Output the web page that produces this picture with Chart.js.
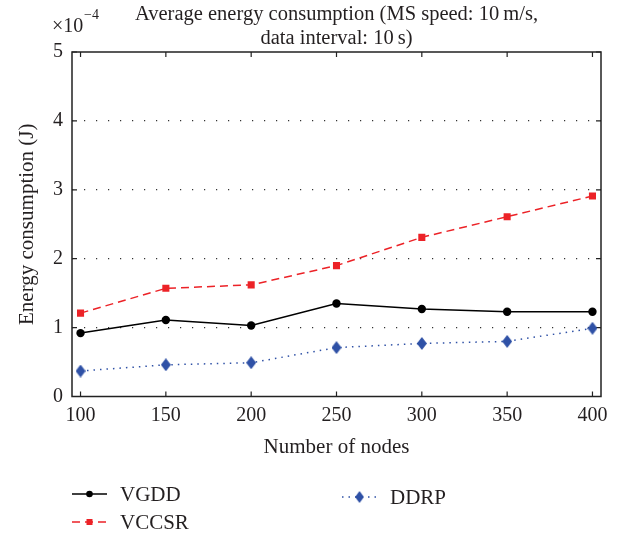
<!DOCTYPE html>
<html>
<head>
<meta charset="utf-8">
<script src="https://cdn.jsdelivr.net/npm/chart.js@4.4.0/dist/chart.umd.min.js"></script>
<style>body{margin:0;background:#fff}</style>
</head>
<body>
<canvas id="energy" width="627" height="533"></canvas>
<script>
// values, in units of 1e-4 J
var nodes = [100, 150, 200, 250, 300, 350, 400]
var vgdd = [0.92, 1.11, 1.03, 1.35, 1.27, 1.23, 1.23]
var vccsr = [1.21, 1.57, 1.62, 1.90, 2.31, 2.61, 2.91]
var ddrp = [0.37, 0.46, 0.49, 0.71, 0.77, 0.80, 0.99]
var yTicks = [0, 1, 2, 3, 4, 5]
var names = ['VGDD', 'VCCSR', 'DDRP']

var serif = '"Liberation Serif", "Times New Roman", serif'
var ink = '#231f20'
var red = '#ec2227'
var blue = '#2f51a6'

function pts(arr) {
  return nodes.map(function(n, i) { return {x: n, y: arr[i]} })
}

// elongated diamond marker like the original
function diamond(color, w, h) {
  var c = document.createElement('canvas')
  c.width = w; c.height = h
  var g = c.getContext('2d')
  g.fillStyle = color
  g.beginPath()
  g.moveTo(w / 2, 0); g.lineTo(w, h / 2); g.lineTo(w / 2, h); g.lineTo(0, h / 2)
  g.closePath()
  g.fill()
  return c
}
var diamondMark = diamond(blue, 10, 13)

var sets = [
  {label: names[0], data: pts(vgdd), borderColor: '#000', backgroundColor: '#000',
   borderWidth: 1.5, pointStyle: 'circle', pointRadius: 4.2, dash: []},
  {label: names[1], data: pts(vccsr), borderColor: red, backgroundColor: red,
   borderWidth: 1.5, borderDash: [8, 5], pointStyle: 'rect', pointRadius: 5, dash: [8, 5]},
  {label: names[2], data: pts(ddrp), borderColor: blue, backgroundColor: blue,
   borderWidth: 1.5, borderDash: [1.5, 5], pointStyle: diamondMark, pointRadius: 6, dash: [1.5, 5]}
]
sets.forEach(function(s) { s.tension = 0; s.fill = false; s.pointBorderWidth = 0 })

var decor = {
  id: 'decor',
  beforeDatasetsDraw: function(chart) {
    var c = chart.ctx, a = chart.chartArea
    var xs = chart.scales.x, ys = chart.scales.y
    c.save()
    c.strokeStyle = '#222'
    c.lineWidth = 1.5
    c.strokeRect(a.left, a.top, a.right - a.left, a.bottom - a.top)
    // inward ticks on all four sides
    c.lineWidth = 1.2
    c.beginPath()
    nodes.forEach(function(n) {
      var px = xs.getPixelForValue(n)
      c.moveTo(px, a.bottom); c.lineTo(px, a.bottom - 5)
      c.moveTo(px, a.top); c.lineTo(px, a.top + 5)
    })
    yTicks.forEach(function(v) {
      var py = ys.getPixelForValue(v)
      c.moveTo(a.left, py); c.lineTo(a.left + 5, py)
      c.moveTo(a.right, py); c.lineTo(a.right - 5, py)
    })
    c.stroke()
    c.restore()
  },
  afterDraw: function(chart) {
    var c = chart.ctx, a = chart.chartArea
    var mid = (a.left + a.right) / 2
    c.save()
    c.fillStyle = ink
    c.textBaseline = 'alphabetic'
    c.textAlign = 'center'
    c.font = '20.5px ' + serif
    c.fillText('Average energy consumption (MS speed: 10\u2009m/s,', mid, 20)
    c.fillText('data interval: 10\u2009s)', mid, 44)
    c.font = '21px ' + serif
    c.fillText('Number of nodes', mid, 453)
    // exponent label
    c.textAlign = 'left'
    c.font = '20px ' + serif
    c.fillText('\u00d710', 52, 32)
    c.font = '14px ' + serif
    c.fillText('\u22124', 84, 19)
    // y title
    c.save()
    c.translate(33, (a.top + a.bottom) / 2)
    c.rotate(-Math.PI / 2)
    c.textAlign = 'center'
    c.font = '21px ' + serif
    c.fillText('Energy consumption (J)', 0, 0)
    c.restore()

    // legend, two columns like the original
    var spots = [
      {x: 72, y: 494},
      {x: 72, y: 522},
      {x: 342, y: 497}
    ]
    chart.data.datasets.forEach(function(s, i) {
      var p = spots[i]
      c.strokeStyle = s.borderColor
      c.lineWidth = 1.5
      c.setLineDash(s.dash)
      c.beginPath()
      c.moveTo(p.x, p.y); c.lineTo(p.x + 35, p.y)
      c.stroke()
      c.setLineDash([])
      var cx = p.x + 17.5
      c.fillStyle = s.backgroundColor
      if (i == 0) {
        c.beginPath(); c.arc(cx, p.y, 3.3, 0, Math.PI * 2); c.fill()
      } else if (i == 1) {
        c.fillRect(cx - 3, p.y - 3, 6, 6)
      } else {
        c.drawImage(diamondMark, cx - 4.5, p.y - 6, 9, 12)
      }
      c.fillStyle = ink
      c.font = '21px ' + serif
      c.textAlign = 'left'
      c.fillText(s.label, p.x + 48, p.y + 7)
    })
    c.restore()
  }
}

new Chart(document.getElementById('energy'), {
  type: 'line',
  data: {datasets: sets},
  options: {
    responsive: false,
    animation: false,
    layout: {padding: {left: 0, top: 52, right: 26, bottom: 0}},
    plugins: {legend: {display: false}, tooltip: {enabled: false}, title: {display: false}},
    scales: {
      x: {
        type: 'linear', min: 95, max: 405,
        afterBuildTicks: function(s) { s.ticks = nodes.map(function(v) { return {value: v} }) },
        afterFit: function(s) { s.height = 136.5 },
        grid: {display: false, drawTicks: false},
        border: {display: false},
        ticks: {color: ink, padding: 7, font: {family: serif, size: 20}}
      },
      y: {
        min: 0, max: 5,
        afterBuildTicks: function(s) { s.ticks = yTicks.map(function(v) { return {value: v} }) },
        afterFit: function(s) { s.width = 72 },
        grid: {
          drawTicks: false, lineWidth: 1.2,
          color: function(ctx) { return ctx.tick && ctx.tick.value > 0 && ctx.tick.value < 5 ? '#333' : 'rgba(0,0,0,0)' }
        },
        border: {display: false, dash: [1.2, 10.8]},
        ticks: {color: ink, padding: 9, font: {family: serif, size: 20}}
      }
    }
  },
  plugins: [decor]
})
</script>
</body>
</html>
